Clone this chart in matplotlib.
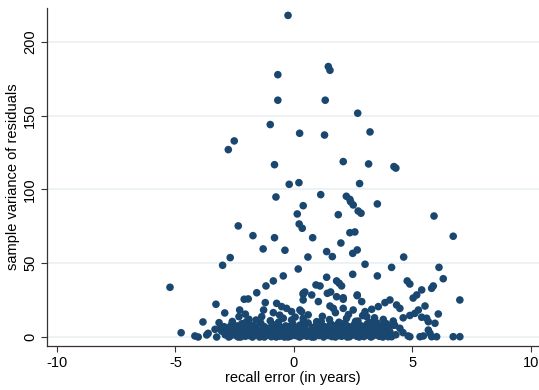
import matplotlib
matplotlib.use("Agg")
import matplotlib.pyplot as plt

# ---- data ----
# sparse upper points
x_upper = [-0.25, -0.68, 1.45, 1.52, -0.68, 1.32, 2.69, -1.0, 0.24, 1.29, 3.21,
           -2.77, -2.52, -0.82, 2.08, 3.15, 4.22, 4.30, -0.20, 0.21, 2.77, -0.76,
           1.13, 2.21, 2.36, 0.39, 2.39, 2.50, 3.52, 0.14, 1.87, 2.71, 2.83, 5.91,
           0.22, 0.35, -0.82, 0.79, 2.36, 2.57, 6.72, -0.38, 1.98, 1.38, 1.62,
           2.48, 2.67, 0.59, 4.63, -2.35, -1.73, -1.30, -3.01, -2.69]
y_upper = [218, 177.8, 183.3, 180.8, 160.5, 160.5, 151.7, 144, 138.1, 136.9, 139,
           127, 132.9, 116.8, 118.9, 117.3, 115.5, 114.5, 103.5, 104.6, 104, 94.9,
           96.5, 95.4, 93.3, 89, 91.7, 89.5, 90.2, 83.4, 82.9, 85.4, 83.9, 82,
           76.6, 73.7, 67.3, 67.3, 70.7, 71.2, 68.3, 58.8, 63.7, 57.9, 54.5,
           56.7, 59, 54.2, 54.2, 75.3, 68.7, 59.7, 48.6, 53.8]

# middle band points (about 10-50)
x_mid = [-5.23, -3.84, -3.29, -2.92, -3.16, -1.57, -2.10, -1.93, -1.18, -1.21,
         -2.29, -2.32, -1.60, -1.36, -1.28, 0.18, 3.00, 4.12, 6.12, 6.30, 5.88,
         5.81, 7.00, -0.45, -0.87, 1.38, 1.80, 1.91, 2.01, 2.48, 3.52, 4.78, 4.89,
         0.39, 0.46, 0.93, 1.10, 1.41, 1.55, 2.08, 2.67, 5.39, 5.18, 5.03, 0.75,
         1.03, 1.80, 2.08, 2.67, 2.86, 0.39, 1.52, 1.66, 3.00, 3.28, 3.56, 3.84,
         2.08, 2.50, 0.39, 0.96, 2.22, 3.07, 3.77, -0.73, -0.52, -0.31, -0.10,
         0.25, 0.39, -0.87, -0.45, -0.10, 0.32, 4.05, 4.33, 4.47, 5.53, 5.25,
         4.19, 4.61, 4.89, 5.10, 5.39, 5.60, 5.67, 6.09, 5.95, 4.47, 5.67, 5.74,
         0.60, 1.20, 1.75, 2.30, 2.90, 3.40, -0.60, -1.90, 0.05, 1.50, 2.60,
         3.20, 3.90, 4.20, -2.60, -3.33, -2.05]
y_mid = [33.7, 10.2, 22.2, 16.3, 9.7, 30.0, 25.6, 25.8, 34.6, 23.3,
         18.3, 13.8, 11.5, 13.8, 18.3, 46.1, 49.3, 47.2, 47.2, 39.5, 34.6,
         33.0, 25.1, 41.4, 38.0, 40.5, 38.0, 36.4, 34.6, 42.5, 41.4, 38.0, 35.9,
         28.9, 30.5, 35.3, 34.6, 29.6, 30.5, 26.6, 28.0, 31.9, 28.5, 26.4, 28.5,
         24.0, 27.3, 25.6, 28.5, 24.0, 25.1, 21.0, 19.4, 17.2, 18.8, 20.6, 23.3,
         19.4, 18.3, 12.7, 10.4, 12.7, 13.8, 11.9, 22.8, 20.6, 19.4, 17.2,
         18.3, 29.6, 16.5, 12.7, 11.5, 17.2, 25.1, 21.7, 19.4, 21.0, 18.3,
         10.8, 13.0, 14.6, 16.0, 13.4, 12.7, 10.4, 15.6, 9.3, 5.9, 4.7, 2.5,
         15.0, 14.0, 16.5, 15.2, 14.5, 13.0, 14.8, 12.0, 13.5, 11.8, 10.6,
         9.8, 9.0, 8.0, 10.5, 5.2, 15.5]

# dense bottom band (about 0-10)
x_low = [-4.76, -4.18, -4.04, -3.68, -3.62, -3.26, -3.05, -2.95, -2.85, -2.80,
         -2.70, -2.65, -2.60, -2.50, -2.45, -2.40, -2.35, -2.30, -2.25, -2.20,
         -2.15, -2.10, -2.05, -2.00, -1.95, -1.90, -1.85, -1.80, -1.75, -1.70,
         -1.65, -1.60, -1.55, -1.50, -1.45, -1.40, -1.35, -1.30, -1.25, -1.20,
         -1.15, -1.10, -1.05, -1.00, -0.95, -0.90, -0.85, -0.80, -0.75, -0.70,
         -0.65, -0.60, -0.55, -0.50, -0.45, -0.40, -0.35, -0.30, -0.25, -0.20,
         -0.15, -0.10, -0.05, 0.00, 0.05, 0.10, 0.15, 0.20, 0.25, 0.30,
         0.35, 0.40, 0.45, 0.50, 0.55, 0.60, 0.65, 0.70, 0.75, 0.80,
         0.85, 0.90, 0.95, 1.00, 1.05, 1.10, 1.15, 1.20, 1.25, 1.30,
         1.35, 1.40, 1.45, 1.50, 1.55, 1.60, 1.65, 1.70, 1.75, 1.80,
         1.85, 1.90, 1.95, 2.00, 2.05, 2.10, 2.15, 2.20, 2.25, 2.30,
         2.35, 2.40, 2.45, 2.50, 2.55, 2.60, 2.65, 2.70, 2.75, 2.80,
         2.85, 2.90, 2.95, 3.00, 3.05, 3.10, 3.15, 3.20, 3.25, 3.30,
         3.35, 3.40, 3.45, 3.50, 3.55, 3.60, 3.65, 3.70, 3.75, 3.80,
         3.85, 3.90, 3.95, 3.98, 4.12, 4.30, 4.82, 4.89, 5.32, 5.46,
         5.81, 6.02, 6.72, 7.00,
         -2.90, -2.55, -2.20, -1.95, -1.70, -1.45, -1.20, -0.95, -0.70, -0.45,
         -0.20, 0.05, 0.30, 0.55, 0.80, 1.05, 1.30, 1.55, 1.80, 2.05,
         2.30, 2.55, 2.80, 3.05, 3.30, 3.55, 3.80, 4.05,
         -2.75, -2.25, -1.75, -1.25, -0.75, -0.25, 0.25, 0.75, 1.25, 1.75,
         2.25, 2.75, 3.25, 3.75,
         -2.40, -1.60, -0.80, 0.00, 0.80, 1.60, 2.40, 3.20, 4.00,
         -3.10, -2.00, -1.00, 0.40, 1.10, 1.90, 2.70, 3.50, 4.25, 4.60,
         -2.82, -2.48, -2.12, -1.78, -1.42, -1.08, -0.72, -0.38, -0.02, 0.32,
         0.68, 1.02, 1.38, 1.72, 2.08, 2.42, 2.78, 3.12, 3.48, 3.82,
         -2.62, -2.28, -1.92, -1.58, -1.22, -0.88, -0.52, -0.18, 0.18, 0.52,
         0.88, 1.22, 1.58, 1.92, 2.28, 2.62, 2.98, 3.32, 3.68, 4.02]
y_low = [2.9, 0.7, 0.0, 1.4, 2.5, 0.0, 4.0, 7.0, 2.0, 6.0,
         0.5, 8.0, 3.0, 5.0, 1.0, 7.5, 0.0, 3.5, 6.0, 9.0,
         2.0, 4.5, 0.5, 7.0, 3.0, 1.0, 5.5, 8.0, 0.3, 2.5,
         4.0, 6.5, 1.5, 3.5, 0.0, 9.5, 5.0, 2.0, 7.0, 0.8,
         4.0, 1.5, 6.0, 3.0, 0.2, 8.5, 2.0, 5.0, 1.0, 3.5,
         10.0, 0.5, 6.5, 2.5, 4.0, 0.0, 7.5, 1.5, 3.0, 5.5,
         0.5, 2.0, 9.0, 4.0, 1.0, 6.0, 3.0, 0.3, 8.0, 2.0,
         5.0, 1.0, 7.0, 3.5, 0.5, 9.5, 2.5, 4.5, 1.5, 6.5,
         0.0, 3.0, 8.0, 5.0, 1.0, 2.5, 10.5, 4.0, 0.5, 7.0,
         2.0, 5.5, 1.0, 3.5, 9.0, 0.3, 6.0, 2.0, 4.5, 8.0,
         1.0, 3.0, 6.5, 0.5, 5.0, 2.5, 9.5, 1.5, 4.0, 7.0,
         0.2, 3.0, 5.5, 1.5, 8.5, 2.5, 0.5, 6.0, 4.0, 1.0,
         7.5, 3.0, 0.3, 5.0, 2.0, 9.0, 1.0, 4.0, 6.5, 0.5,
         3.0, 8.0, 1.5, 5.0, 2.5, 0.5, 7.0, 3.5, 1.0, 9.5,
         4.5, 2.0, 6.0, 0.2, 0.2, 1.5, 0.7, 0.2, 0.2, 0.7,
         0.2, 0.2, 0.2, 0.2,
         1.5, 3.0, 5.0, 2.0, 7.0, 3.0, 5.5, 2.5, 6.0, 1.0,
         7.0, 2.5, 5.5, 1.5, 3.0, 7.5, 1.5, 6.0, 3.0, 1.0,
         7.0, 3.5, 2.0, 7.0, 4.5, 2.5, 6.5, 3.5,
         0.0, 0.0, 0.0, 0.0, 0.0, 0.0, 0.0, 0.0, 0.0, 0.0,
         0.0, 0.0, 0.0, 0.0,
         4.5, 5.0, 4.5, 6.5, 5.0, 4.5, 5.0, 4.0, 4.0,
         6.0, 10.5, 11.0, 11.0, 9.5, 10.0, 10.8, 9.5, 8.0, 3.0,
         1.8, 2.2, 1.6, 2.4, 1.9, 2.1, 1.7, 2.3, 1.8, 2.2,
         1.6, 2.4, 1.9, 2.1, 1.7, 2.3, 1.8, 2.2, 1.6, 2.0,
         4.2, 3.8, 4.4, 3.6, 4.1, 3.9, 4.3, 3.7, 4.2, 3.8,
         4.4, 3.6, 4.1, 3.9, 4.3, 3.7, 4.2, 3.8, 4.0, 3.5]

xs = x_upper + x_mid + x_low
ys = y_upper + y_mid + y_low

x_ticks = [-10, -5, 0, 5, 10]
y_ticks = [0, 50, 100, 150, 200]
x_label = "recall error (in years)"
y_label = "sample variance of residuals"

# ---- figure ----
plt.rcParams['font.family'] = ['Liberation Sans', 'DejaVu Sans']
fig = plt.figure(figsize=(5.39, 3.90), dpi=100)
ax = fig.add_axes([47/539, 44/390, 492/539, 338/390])

ax.scatter(xs, ys, s=30, color='#1a476f', edgecolors='none', zorder=3)

ax.set_xlim(-10.42, 10.34)
ax.set_ylim(-6.1, 223)
ax.set_xticks(x_ticks)
ax.set_yticks(y_ticks)
ax.set_xticklabels([str(t) for t in x_ticks], fontsize=10.5)
ax.set_yticklabels([str(t) for t in y_ticks], fontsize=10.5, rotation=90, va='center')

for v in y_ticks:
    ax.axhline(v, color='#eaf0f2', lw=1.2, zorder=1)

for s in ['top', 'right']:
    ax.spines[s].set_visible(False)
for s in ['left', 'bottom']:
    ax.spines[s].set_color('#333333')
    ax.spines[s].set_linewidth(0.9)
ax.tick_params(direction='out', length=4, width=0.8, color='#333333', pad=3)

ax.set_xlabel(x_label, fontsize=10.5, labelpad=1)
ax.set_ylabel(y_label, fontsize=10.5, labelpad=2)

fig.savefig("out.png", dpi=100, facecolor='white')
